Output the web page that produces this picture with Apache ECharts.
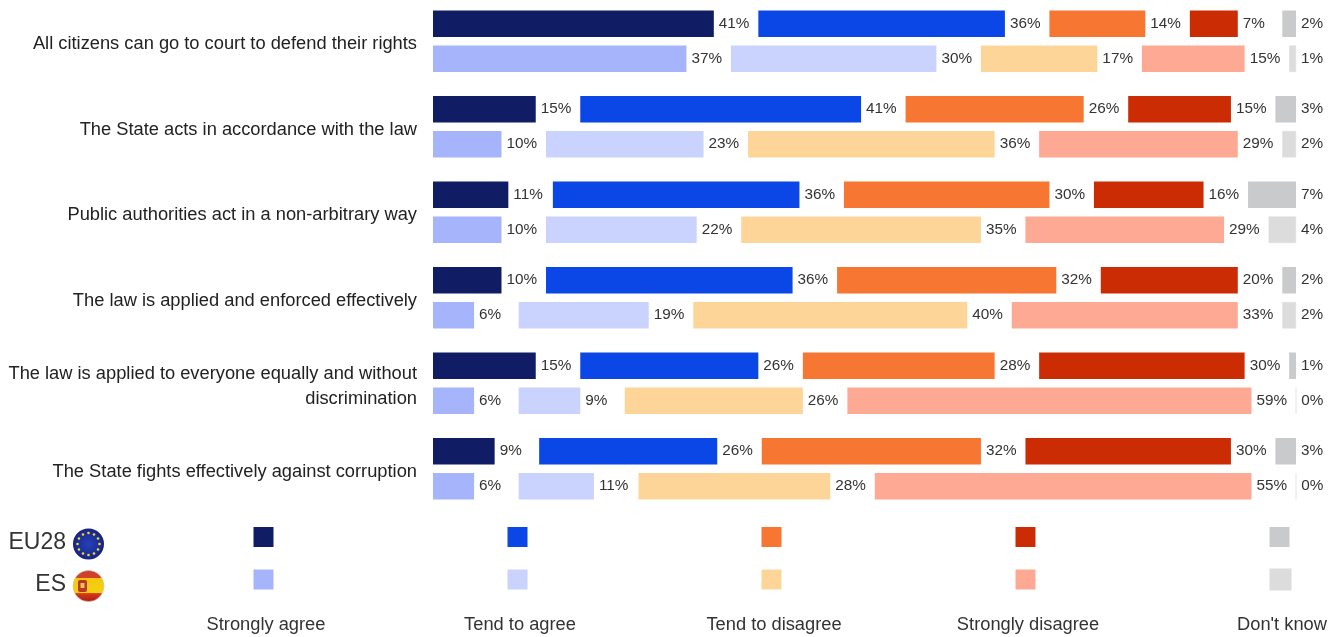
<!DOCTYPE html>
<html><head><meta charset="utf-8">
<style>html,body{margin:0;padding:0;background:#fff;overflow:hidden}#c{position:absolute;left:0;top:-10px;width:1338px;height:647px}</style>
<script src="https://cdn.jsdelivr.net/npm/echarts@6/dist/echarts.min.js"></script>
</head><body><div id="c"></div>
<script>
const categories = [
  "All citizens can go to court to defend their rights",
  "The State acts in accordance with the law",
  "Public authorities act in a non-arbitrary way",
  "The law is applied and enforced effectively",
  "The law is applied to everyone equally and without\ndiscrimination",
  "The State fights effectively against corruption"
];
const answers = ["Strongly agree", "Tend to agree", "Tend to disagree", "Strongly disagree", "Don't know"];
const eu28StronglyAgree    = [41, 15, 11, 10, 15, 9];
const eu28TendAgree        = [36, 41, 36, 36, 26, 26];
const eu28TendDisagree     = [14, 26, 30, 32, 28, 32];
const eu28StronglyDisagree = [7, 15, 16, 20, 30, 30];
const eu28DontKnow         = [2, 3, 7, 2, 1, 3];
const esStronglyAgree      = [37, 10, 10, 6, 6, 6];
const esTendAgree          = [30, 23, 22, 19, 9, 11];
const esTendDisagree       = [17, 36, 35, 40, 26, 28];
const esStronglyDisagree   = [15, 29, 29, 33, 59, 55];
const esDontKnow           = [1, 2, 4, 2, 0, 0];
const eu28Colors = ["#101c64", "#0a47e6", "#f77631", "#cc2c03", "#c8cacc"];
const esColors   = ["#a5b4fb", "#cad3fe", "#fed599", "#fea994", "#dcdcdc"];
const labelSpacer = 6.5;

const OY = 10;
const FONT = '"Liberation Sans", Arial, sans-serif';
const groups = [
  {key:"EU28", colors:eu28Colors, rows:[eu28StronglyAgree,eu28TendAgree,eu28TendDisagree,eu28StronglyDisagree,eu28DontKnow]},
  {key:"ES", colors:esColors, rows:[esStronglyAgree,esTendAgree,esTendDisagree,esStronglyDisagree,esDontKnow]}
];
const series = [];
groups.forEach(g => {
  g.rows.forEach((vals,i) => {
    series.push({
      type:"bar", name:answers[i]+" "+g.key, stack:g.key, barWidth:26.5, barGap:"32%",
      data:vals, silent:true,
      itemStyle:{color:g.colors[i], borderColor:g.colors[i], borderWidth:vals.some(v=>v===0)?0.5:0},
      label:{show:true, position:"right", distance:5, formatter:p=>p.value+"%",
             fontFamily:FONT, fontSize:15.3, color:"#333"}
    });
    if(i<4) series.push({
      type:"bar", name:"spacer"+g.key+i, stack:g.key, barWidth:26.5, barGap:"32%", silent:true,
      data:categories.map(()=>labelSpacer), itemStyle:{color:"transparent"}, label:{show:false}
    });
  });
});
function legendFor(g, top){
  return {
    show:true, left:253.5, top:top+OY, orient:"horizontal", padding:0, itemWidth:20, itemHeight:20,
    itemGap:234, selectedMode:false, icon:"rect", formatter:()=>"", textStyle:{fontSize:1},
    data:answers.map(a=>a+" "+g.key)
  };
}
const graphic = [];
answers.forEach((a,i)=>{
  graphic.push({type:"text", x:266+254*i, y:625+OY, silent:true,
    style:{text:a, font:"18.3px "+FONT, fill:"#333", textAlign:"center", textVerticalAlign:"middle"}});
});
graphic.push({type:"text", x:66, y:543+OY, silent:true, style:{text:"EU28", font:"23px "+FONT, fill:"#333", textAlign:"right", textVerticalAlign:"middle"}});
graphic.push({type:"text", x:66, y:585+OY, silent:true, style:{text:"ES", font:"23px "+FONT, fill:"#333", textAlign:"right", textVerticalAlign:"middle"}});
graphic.push({type:"circle", shape:{cx:88.5,cy:544+OY,r:15.5}, silent:true,
  style:{fill:{type:"radial",x:0.5,y:0.5,r:0.6,colorStops:[{offset:0,color:"#2640b8"},{offset:0.7,color:"#1a2a90"},{offset:1,color:"#0c1550"}]}}});
for(let k=0;k<12;k++){
  const a=k*Math.PI/6;
  graphic.push({type:"circle", shape:{cx:88.5+11*Math.cos(a),cy:544+OY+11*Math.sin(a),r:1.3}, silent:true, style:{fill:"#f5d820"}});
}
graphic.push({type:"circle", shape:{cx:88.5,cy:586+OY,r:15.5}, silent:true,
  style:{fill:{type:"linear",x:0,y:0,x2:0,y2:1,colorStops:[
    {offset:0,color:"#c8402a"},{offset:0.24,color:"#d8402a"},{offset:0.26,color:"#f4c810"},
    {offset:0.72,color:"#f4d010"},{offset:0.74,color:"#d8381f"},{offset:1,color:"#a81c10"}]}, stroke:"#c9c9a0", lineWidth:0.5}});
graphic.push({type:"rect", shape:{x:78,y:580+OY,width:9,height:12,r:2}, silent:true, style:{fill:"#b8391f"}});
graphic.push({type:"rect", shape:{x:80.5,y:583+OY,width:4,height:5}, silent:true, style:{fill:"#eec060"}});

const chart = echarts.init(document.getElementById("c"), null, {renderer:"canvas"});
chart.setOption({
  animation:false, backgroundColor:"#fff",
  grid:[
    {left:433, top:-1.5+OY, width:863, height:513, containLabel:false},
    {left:433, top:1.25+OY, width:863, height:513, containLabel:false}
  ],
  xAxis:[
    {type:"value", gridIndex:0, min:0, max:126, show:false},
    {type:"value", gridIndex:1, min:0, max:126, show:false}
  ],
  yAxis:[
    {type:"category", gridIndex:0, inverse:true, data:categories,
      axisLine:{show:false}, axisTick:{show:false}, splitLine:{show:false}, axisLabel:{show:false}},
    {type:"category", gridIndex:1, inverse:true, data:categories,
      axisLine:{show:false}, axisTick:{show:false}, splitLine:{show:false},
      axisLabel:{margin:16, align:"right", fontFamily:FONT, fontSize:18.3, color:"#222", lineHeight:25, interval:0}}
  ],
  legend:[legendFor(groups[0],527), legendFor(groups[1],568.5)],
  series, graphic
});
</script></body></html>
